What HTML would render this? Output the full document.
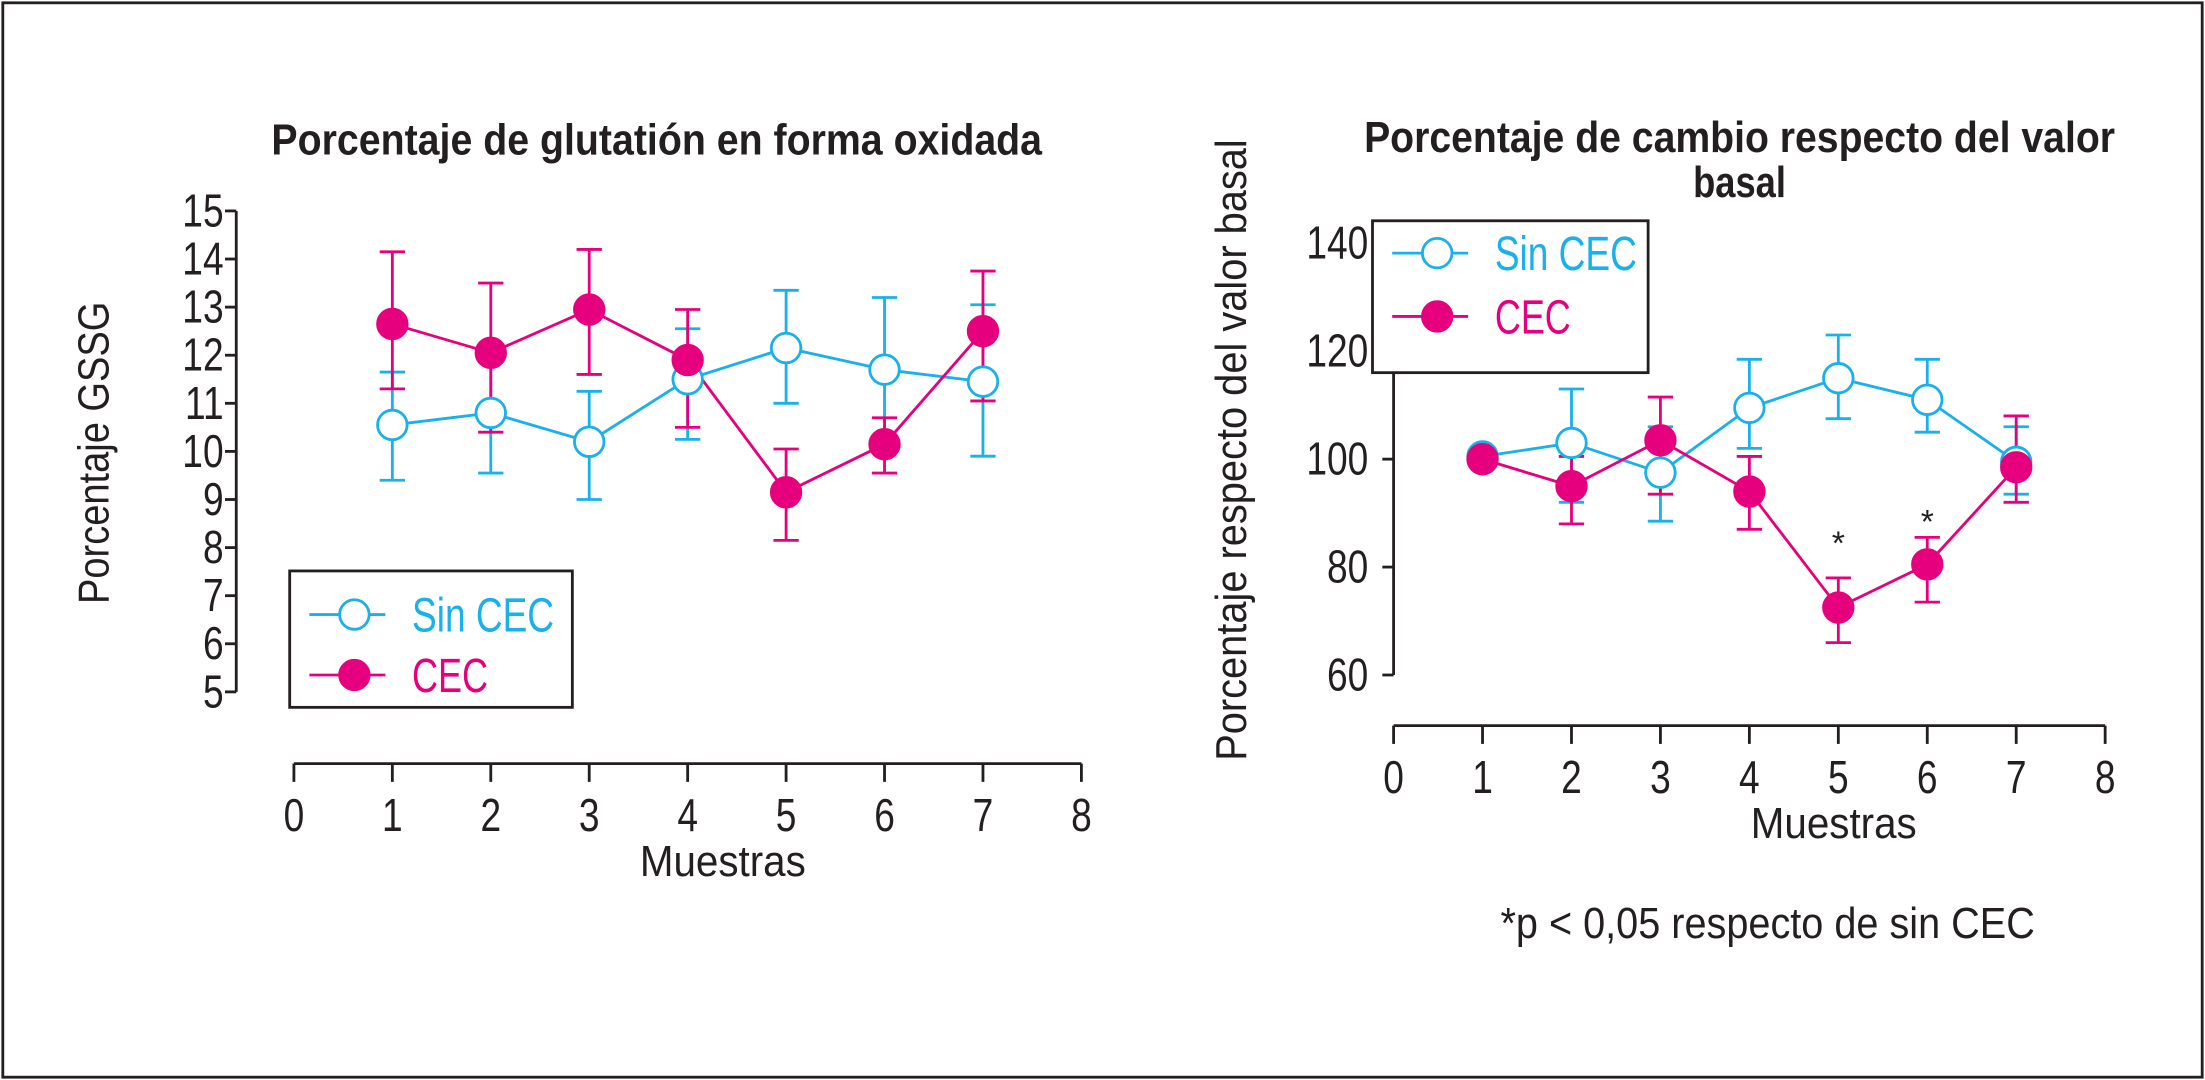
<!DOCTYPE html>
<html><head><meta charset="utf-8"><style>
html,body{margin:0;padding:0;background:#fff}
svg{display:block}
text{font-family:"Liberation Sans",sans-serif;fill:#231f20}
</style></head><body>
<svg id="fig" width="2205" height="1080" viewBox="0 0 1568 768" preserveAspectRatio="none" xmlns="http://www.w3.org/2000/svg">
<rect x="2" y="2" width="1564" height="764" fill="#fff" stroke="#231f20" stroke-width="2"/>
<g id="left"></g>
<g id="right"></g>
</svg>
<script>
const samples=[1,2,3,4,5,6,7];
// Left chart: % GSSG
const L_sin=[10.55,10.8,10.2,11.5,12.15,11.7,11.45];
const L_sinLo=[9.4,9.55,9.0,10.25,11.0,10.2,9.9];
const L_sinHi=[11.65,12.0,11.25,12.55,13.35,13.2,13.05];
const L_cec=[12.65,12.05,12.95,11.9,9.15,10.15,12.5];
const L_cecLo=[11.3,10.4,11.6,10.5,8.15,9.55,11.05];
const L_cecHi=[14.15,13.5,14.2,12.95,10.05,10.7,13.75];
const L_yTicks=[5,6,7,8,9,10,11,12,13,14,15];
const xTicks=[0,1,2,3,4,5,6,7,8];
// Right chart: % change vs baseline
const R_sin=[100.5,103,97.5,109.5,115,111,99.5];
const R_sinLo=[null,92,88.5,102,107.5,105,93.5];
const R_sinHi=[null,113,106,118.5,123,118.5,106];
const R_cec=[100,95,103.5,94,72.5,80.5,98.5];
const R_cecLo=[null,88,93.5,87,66,73.5,92];
const R_cecHi=[null,100.5,111.5,100.5,78,85.5,108];
const R_yTicks=[60,80,100,120,140];
const R_stars=[5,6];
const R_starVals=[86,90];

const NS="http://www.w3.org/2000/svg";
const CY="#1ab0e8",MG="#e6007e",K="#231f20";
function mk(p,tag,at,name,txt){
  const e=document.createElementNS(NS,tag);
  for(const k in at)e.setAttribute(k,at[k]);
  
  
  if(txt!==undefined)e.textContent=txt;
  p.appendChild(e);return e;
}
function chart(g,o){
  const X=v=>o.x0+(v-0)*(o.x8-o.x0)/8;
  const Y=v=>o.yTop+(o.yMax-v)*(o.yBot-o.yTop)/(o.yMax-o.yMin);
  mk(g,'line',{x1:o.ax,y1:Y(o.yMax),x2:o.ax,y2:Y(o.yMin),stroke:K,'stroke-width':2},'y-axis-line');
  o.yT.forEach(t=>{
    mk(g,'line',{x1:o.ax-8,y1:Y(t),x2:o.ax,y2:Y(t),stroke:K,'stroke-width':2},'y-tick');
    const lx=o.ax-o.lg;
    mk(g,'text',{x:lx,y:Y(t)+11,'font-size':33,'text-anchor':'end',transform:`translate(${lx},0) scale(0.8,1) translate(${-lx},0)`},'y-tick-label',String(t));
  });
  mk(g,'line',{x1:X(0),y1:o.xa,x2:X(8),y2:o.xa,stroke:K,'stroke-width':2},'x-axis-line');
  xTicks.forEach(t=>{
    mk(g,'line',{x1:X(t),y1:o.xa,x2:X(t),y2:o.xa+13,stroke:K,'stroke-width':2},'x-tick');
    mk(g,'text',{x:X(t),y:o.xa+48,'font-size':33,'text-anchor':'middle',transform:`translate(${X(t)},0) scale(0.8,1) translate(${-X(t)},0)`},'x-tick-label',String(t));
  });
  mk(g,'text',{x:o.mx,y:o.xa+80,'font-size':31,'text-anchor':'middle',textLength:118,lengthAdjust:'spacingAndGlyphs'},'x-axis-title','Muestras');
  mk(g,'text',{x:0,y:0,'font-size':31,'text-anchor':'middle',textLength:o.ytLen,lengthAdjust:'spacingAndGlyphs',transform:`translate(${o.ytx},${o.yty}) rotate(-90)`},'y-axis-title',o.ytitle);
  [[o.sin,o.sinLo,o.sinHi,CY,'sin-cec'],[o.cec,o.cecLo,o.cecHi,MG,'cec']].forEach(([v,lo,hi,c,nm])=>{
    samples.forEach((s,i)=>{
      if(lo[i]!=null){
        mk(g,'line',{x1:X(s),y1:Y(lo[i]),x2:X(s),y2:Y(hi[i]),stroke:c,'stroke-width':2},nm+'-error-bar');
        mk(g,'line',{x1:X(s)-9,y1:Y(lo[i]),x2:X(s)+9,y2:Y(lo[i]),stroke:c,'stroke-width':2},nm+'-error-cap');
        mk(g,'line',{x1:X(s)-9,y1:Y(hi[i]),x2:X(s)+9,y2:Y(hi[i]),stroke:c,'stroke-width':2},nm+'-error-cap');
      }
    });
    mk(g,'polyline',{points:samples.map((s,i)=>X(s)+','+Y(v[i])).join(' '),fill:'none',stroke:c,'stroke-width':2},nm+'-line');
  });
  [[o.sin,CY,false,'sin-cec'],[o.cec,MG,true,'cec']].forEach(([v,c,fill,nm])=>{
    samples.forEach((s,i)=>mk(g,'circle',{cx:X(s),cy:Y(v[i]),r:10.5,fill:fill?c:'#fff',stroke:c,'stroke-width':2},nm+'-point'));
  });
  const L=o.leg;
  mk(g,'rect',{x:L.x,y:L.y,width:L.w,height:L.h,fill:'#fff',stroke:K,'stroke-width':2},'legend-box');
  [[L.y1,CY,false,'Sin CEC',101,'legend-sin-cec'],[L.y2,MG,true,'CEC',54,'legend-cec']].forEach(([yy,c,f,t,tl,nm])=>{
    mk(g,'line',{x1:L.x+14,y1:yy,x2:L.x+68,y2:yy,stroke:c,'stroke-width':2},nm+'-line');
    mk(g,'circle',{cx:L.x+46,cy:yy,r:10.5,fill:f?c:'#fff',stroke:c,'stroke-width':2},nm+'-marker');
    const tx=mk(g,'text',{x:L.x+87,y:yy+12,'font-size':34,textLength:tl,lengthAdjust:'spacingAndGlyphs'},nm+'-label',t);
    tx.style.fill=c;
  });
  return {X,Y};
}
const lg=document.getElementById('left');
mk(lg,'text',{x:467,y:110,'font-size':31,'font-weight':'bold','text-anchor':'middle',textLength:548,lengthAdjust:'spacingAndGlyphs'},'left-chart-title','Porcentaje de glutatión en forma oxidada');
chart(lg,{x0:209,x8:769,ax:168,lg:9,yTop:150,yBot:492,yMin:5,yMax:15,yT:L_yTicks,xa:543,mx:514,
  ytitle:'Porcentaje GSSG',ytx:77,yty:322,ytLen:215,
  sin:L_sin,sinLo:L_sinLo,sinHi:L_sinHi,cec:L_cec,cecLo:L_cecLo,cecHi:L_cecHi,
  leg:{x:206,y:406,w:201,h:97,y1:437,y2:480}});
const rg=document.getElementById('right');
mk(rg,'text',{x:1237,y:108,'font-size':31,'font-weight':'bold','text-anchor':'middle',textLength:534,lengthAdjust:'spacingAndGlyphs'},'right-chart-title-line1','Porcentaje de cambio respecto del valor');
mk(rg,'text',{x:1237,y:140,'font-size':31,'font-weight':'bold','text-anchor':'middle',textLength:66,lengthAdjust:'spacingAndGlyphs'},'right-chart-title-line2','basal');
const r=chart(rg,{x0:991,x8:1497,ax:991,lg:18,yTop:173,yBot:480,yMin:60,yMax:140,yT:R_yTicks,xa:516,mx:1304,
  ytitle:'Porcentaje respecto del valor basal',ytx:886,yty:320,ytLen:442,
  sin:R_sin,sinLo:R_sinLo,sinHi:R_sinHi,cec:R_cec,cecLo:R_cecLo,cecHi:R_cecHi,
  leg:{x:976,y:157,w:196,h:108,y1:180,y2:225}});
R_stars.forEach((s,i)=>mk(rg,'text',{x:r.X(s),y:r.Y(R_starVals[i])+14,'font-size':24,'text-anchor':'middle'},'significance-star','*'));
mk(rg,'text',{x:1257,y:667,'font-size':31,'text-anchor':'middle',textLength:380,lengthAdjust:'spacingAndGlyphs'},'footnote','*p < 0,05 respecto de sin CEC');
</script>
</body></html>
